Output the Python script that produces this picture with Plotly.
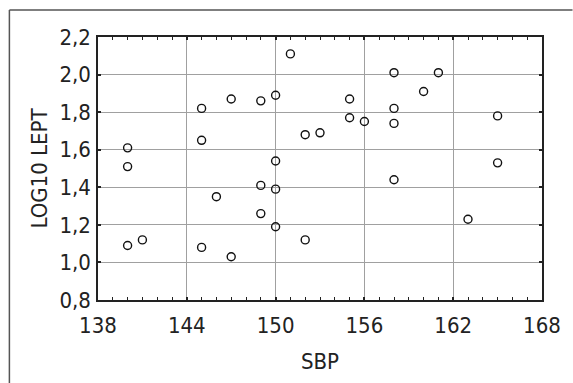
import plotly.graph_objects as go

sbp = [140, 140, 140, 141, 145, 145, 145, 146, 147, 147, 149, 149, 149,
       150, 150, 150, 150, 151, 152, 152, 153, 155, 155, 156, 158, 158,
       158, 158, 160, 161, 163, 165, 165]
log10_lept = [1.61, 1.51, 1.09, 1.12, 1.82, 1.65, 1.08, 1.35, 1.87, 1.03, 1.86, 1.41, 1.26,
              1.89, 1.54, 1.39, 1.19, 2.11, 1.68, 1.12, 1.69, 1.87, 1.77, 1.75, 2.01, 1.82,
              1.74, 1.44, 1.91, 2.01, 1.23, 1.78, 1.53]

x_ticks = [138, 144, 150, 156, 162, 168]
y_ticks = [0.8, 1.0, 1.2, 1.4, 1.6, 1.8, 2.0, 2.2]

FONT = "Liberation Sans Narrow, Arial Narrow, DejaVu Sans Condensed, sans-serif"
W, H = 573, 383
L, R, T, B = 98, 24, 37, 83

fig = go.Figure()
fig.add_trace(go.Scatter(
    x=sbp, y=log10_lept, mode="markers",
    marker=dict(symbol="circle-open", size=8, color="#111111", line=dict(width=1.4, color="#111111")),
    showlegend=False, hoverinfo="x+y",
))

axis_common = dict(
    showline=True, linecolor="#222222", linewidth=1.5, mirror="ticks",
    showgrid=True, gridcolor="#a0a0a0", gridwidth=1,
    ticks="inside", ticklen=3, tickcolor="#222222", tickwidth=1.5,
    zeroline=False,
    tickfont=dict(family=FONT, size=22, color="#222222"),
)

fig.update_xaxes(
    range=[138, 168], tickvals=x_ticks, ticktext=[str(v) for v in x_ticks],
    minor=dict(dtick=1, ticks="inside", ticklen=3, tickcolor="#222222", tickwidth=1.2, showgrid=False, tick0=138),
    ticklabelstandoff=5,
    title=dict(text="SBP", font=dict(family=FONT, size=22, color="#222222"), standoff=16),
    **axis_common,
)
fig.update_yaxes(
    range=[0.8, 2.2], tickvals=y_ticks, ticktext=[f"{v:.1f}".replace(".", ",") for v in y_ticks],
    ticklabelstandoff=1,
    title=dict(text="LOG10 LEPT", font=dict(family=FONT, size=22, color="#222222"), standoff=6),
    **axis_common,
)

pw = W - L - R
ph = H - T - B
def px(xp):
    return (xp - L) / pw
def py(yp):
    return (H - B - yp) / ph

# outer frame (top and left lines, running off the picture)
fig.add_shape(type="line", xref="paper", yref="paper",
              x0=px(8), x1=px(580), y0=py(10), y1=py(10),
              line=dict(color="#555555", width=1.5))
fig.add_shape(type="line", xref="paper", yref="paper",
              x0=px(8), x1=px(8), y0=py(10), y1=py(390),
              line=dict(color="#555555", width=1.5))

fig.update_layout(
    width=W, height=H,
    margin=dict(l=L, r=R, t=T, b=B),
    paper_bgcolor="white", plot_bgcolor="white",
    separators=", ",
    font=dict(family=FONT, color="#222222"),
)

fig.write_html("out.html")
